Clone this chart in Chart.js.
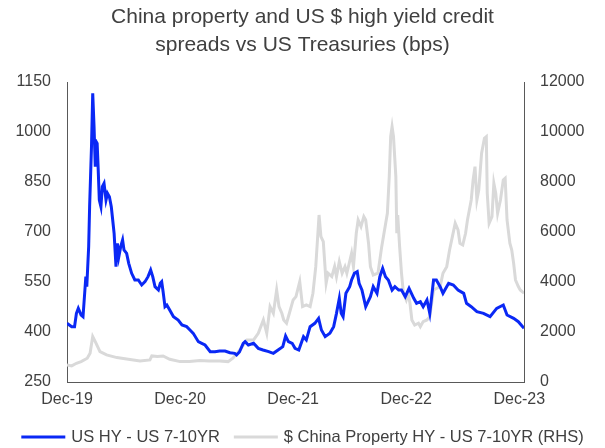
<!DOCTYPE html>
<html>
<head>
<meta charset="utf-8">
<script src="https://cdn.jsdelivr.net/npm/chart.js@4.4.1/dist/chart.umd.min.js"></script>
<style>
  html, body { margin: 0; padding: 0; background: #fff; }
  #wrap { width: 605px; height: 448px; }
</style>
</head>
<body>
<div id="wrap"><canvas id="spreads" width="605" height="448"></canvas></div>
<script>
// x values are months since the Dec-19 start
const xLabels = ['Dec-19', 'Dec-20', 'Dec-21', 'Dec-22', 'Dec-23'];

const usMonths = [0, 0.5, 0.8, 1.0, 1.2, 1.5, 1.7, 1.9, 2.0, 2.1, 2.3, 2.4, 2.5, 2.6, 2.73, 2.87, 3.0, 3.1, 3.2, 3.3, 3.43, 3.6, 3.75, 3.93, 4.14, 4.3, 4.5, 4.7, 4.85, 5.0, 5.2, 5.35, 5.5, 5.7, 5.9, 6.05, 6.33, 6.55, 6.86, 7.2, 7.57, 7.93, 8.28, 8.6, 8.88, 9.1, 9.34, 9.7, 9.9, 10.05, 10.2, 10.4, 10.6, 10.9, 11.3, 11.8, 12.2, 12.7, 13.05, 13.4, 13.94, 14.3, 14.65, 15.2, 15.7, 16.2, 16.77, 17.3, 17.8, 18.0, 18.3, 18.7, 18.9, 19.25, 19.8, 20.3, 20.8, 21.4, 21.9, 22.4, 22.9, 23.2, 23.5, 23.9, 24.2, 24.6,
  25.1, 25.4, 25.8, 26.3, 26.7, 27.0, 27.4, 27.9, 28.3, 28.6, 28.9, 29.1, 29.3, 29.6, 30.0, 30.2, 30.5, 30.8, 31.0, 31.3, 31.7, 32.2, 32.5, 32.9, 33.2, 33.5, 33.8, 34.1, 34.5, 34.8, 35.2, 35.5, 35.9, 36.3, 36.8, 37.1, 37.5, 37.8, 38.2, 38.5, 38.9, 39.2, 39.6, 39.9, 40.5, 41.0, 41.5, 42.1, 42.4, 42.9, 43.5, 44.2, 44.9, 45.6, 46.3, 46.7, 47.4, 47.9, 48.5];
const usSpread = [426, 416, 416, 456, 471, 451, 446, 526, 566, 536, 656, 776, 866, 956, 1116, 1016, 896, 971, 966, 896, 796, 776, 836, 846, 796, 816, 806, 776, 736, 696, 596, 666, 626, 656, 676, 646, 636, 606, 576, 556, 556, 541, 551, 566, 586, 566, 536, 526, 546, 551, 521, 476, 481, 466, 446, 436, 421, 416, 406, 396, 371, 366, 361, 341, 341, 343, 343, 338, 336, 331, 340, 366, 371, 361, 366, 351, 346, 341, 336, 346, 356, 388, 371, 366, 351, 346,
  386, 376, 416, 426, 441, 406, 386, 396, 416, 456, 501, 456, 446, 516, 536, 556, 576, 581, 546, 526, 476, 506, 536, 516, 566, 591, 566, 556, 526, 536, 526, 526, 506, 531, 501, 486, 491, 476, 496, 456, 556, 556, 536, 516, 546, 541, 526, 516, 486, 476, 461, 456, 446, 471, 481, 451, 441, 431, 411];

const cnMonths = [0, 0.5, 1.0, 1.5, 2.15, 2.45, 2.73, 3.0, 3.5, 4.2, 5.3, 6.33, 7.75, 8.8, 9.0, 9.6, 10.2, 10.9, 12.0, 13.0, 14.1, 15.1, 16.2, 17.1, 17.6, 18.35, 19.1, 19.8, 20.3, 20.84, 21.2, 21.55, 21.9, 22.25, 22.5, 22.8, 23.0, 23.3, 23.6, 24.0, 24.3, 24.7,
  25.0, 25.4, 25.8, 26.1, 26.4, 26.75, 26.95, 27.2, 27.5, 27.7, 28.1, 28.4, 28.6, 28.9, 29.2, 29.5, 29.7, 30.2, 30.4, 30.7, 30.9, 31.2, 31.5, 31.7, 32.0, 32.2, 32.5, 33.0, 33.4, 33.7, 34.0, 34.2, 34.35, 34.5, 34.65, 34.9, 35.0, 35.1, 35.3, 35.5, 35.7, 36.0, 36.2, 36.4, 36.6, 36.9, 37.3, 37.5, 37.8, 38.2, 38.5, 38.7, 38.9, 39.6, 39.9, 40.3, 40.6, 40.9, 41.2, 41.5, 41.7, 42.0, 42.3, 42.5, 42.7, 42.9, 43.1, 43.3, 43.5, 43.7, 44.0, 44.3, 44.5, 44.6, 44.8, 45.1, 45.3, 45.5, 45.7, 46.0, 46.3, 46.5, 46.7, 47.0, 47.2, 47.4, 47.6, 47.9, 48.1, 48.5];
const cnSpread = [683, 643, 750, 816, 950, 1150, 1816, 1616, 1216, 1083, 976, 923, 843, 883, 1043, 1016, 1043, 910, 816, 816, 856, 843, 843, 816, 950, 1283, 1683, 1683, 1950, 2483, 1950, 3016, 2750, 3683, 3016, 2750, 2483, 2350, 2750, 3283, 3416, 4015,
  3016, 3083, 3016, 3550, 4615, 6680, 5815, 5615, 3950, 4350, 4215, 4615, 4215, 4815, 4350, 4615, 4350, 5150, 4615, 5950, 6480, 6215, 6615, 6480, 5550, 4615, 4280, 4350, 5415, 6080, 6750, 8215, 9815, 10215, 9815, 8215, 5950, 6680, 5415, 4350, 3550, 3283, 3550, 3150, 2480, 2280, 2350, 2216, 2416, 2480, 2616, 3150, 3683, 3816, 4350, 4615, 5280, 5815, 6350, 6080, 5550, 5480, 5950, 6480, 6880, 7280, 8080, 8615, 7280, 7680, 9150, 9750, 9815, 7550, 6350, 6615, 7950, 7550, 6750, 7280, 8080, 8150, 6480, 5550, 5280, 4750, 4080, 3816, 3683, 3550];

const usPoints = usMonths.map((m, i) => ({ x: m, y: usSpread[i] }));
const cnPoints = cnMonths.map((m, i) => ({ x: m, y: cnSpread[i] }));

const textColor = '#404040';
const axisColor = '#595959';
const family = "'Liberation Sans', Arial, sans-serif";
const tickFont = { family: family, size: 16 };

// legend drawn by hand: line sample + label, centred under the plot
const bottomLegend = {
  id: 'bottomLegend',
  afterDraw(chart) {
    const ctx = chart.ctx;
    const sample = 44, gap = 6, spacing = 14, y = 437;
    ctx.save();
    ctx.font = '16.5px ' + family;
    ctx.textBaseline = 'middle';
    const items = chart.data.datasets.map(ds => ({
      text: ds.label, color: ds.borderColor, w: sample + gap + ctx.measureText(ds.label).width
    }));
    const total = items.reduce((a, it) => a + it.w, 0) + spacing * (items.length - 1);
    let x = (chart.width - total) / 2;
    items.forEach(it => {
      ctx.strokeStyle = it.color;
      ctx.lineWidth = 3;
      ctx.beginPath();
      ctx.moveTo(x, y);
      ctx.lineTo(x + sample, y);
      ctx.stroke();
      ctx.fillStyle = textColor;
      ctx.fillText(it.text, x + sample + gap, y);
      x += it.w + spacing;
    });
    ctx.restore();
  }
};

new Chart(document.getElementById('spreads'), {
  type: 'line',
  data: {
    datasets: [{
      label: 'US HY - US 7-10YR',
      data: usPoints,
      borderColor: '#0a28f5',
      borderWidth: 3,
      yAxisID: 'y',
      order: 1
    }, {
      label: '$ China Property HY - US 7-10YR (RHS)',
      data: cnPoints,
      borderColor: '#d9d9d9',
      borderWidth: 3,
      yAxisID: 'y2',
      order: 2
    }]
  },
  options: {
    responsive: false,
    animation: false,
    devicePixelRatio: 1,
    elements: { point: { radius: 0 }, line: { tension: 0 } },
    layout: { padding: { left: 0, right: 0, top: 0, bottom: 38 } },
    plugins: {
      tooltip: { enabled: false },
      legend: { display: false },
      title: {
        display: true,
        text: ['China property and US $ high yield credit', 'spreads vs US Treasuries (bps)'],
        color: textColor,
        font: { family: family, size: 21, weight: 'normal', lineHeight: 1.3 },
        padding: { top: 4, bottom: 23.4 }
      }
    },
    scales: {
      x: {
        type: 'linear',
        min: 0,
        max: 48.5,
        grid: { display: false, drawTicks: false },
        border: { display: true, color: axisColor, width: 1 },
        ticks: {
          stepSize: 12,
          includeBounds: false,
          color: textColor,
          font: tickFont,
          padding: 8,
          maxRotation: 0,
          callback: (v) => xLabels[v / 12]
        },
        afterFit: (s) => { s.height = 28; }
      },
      y: {
        position: 'left',
        min: 250,
        max: 1150,
        grid: { display: false, drawTicks: false },
        border: { display: true, color: axisColor, width: 1 },
        ticks: { stepSize: 150, color: textColor, font: tickFont, padding: 16, callback: (v) => String(v) },
        afterFit: (s) => { s.width = 67; }
      },
      y2: {
        position: 'right',
        min: 0,
        max: 12000,
        grid: { display: false, drawTicks: false },
        border: { display: true, color: axisColor, width: 1 },
        ticks: { stepSize: 2000, color: textColor, font: tickFont, padding: 16, callback: (v) => String(v) },
        afterFit: (s) => { s.width = 81; }
      }
    }
  },
  plugins: [bottomLegend]
});
</script>
</body>
</html>
